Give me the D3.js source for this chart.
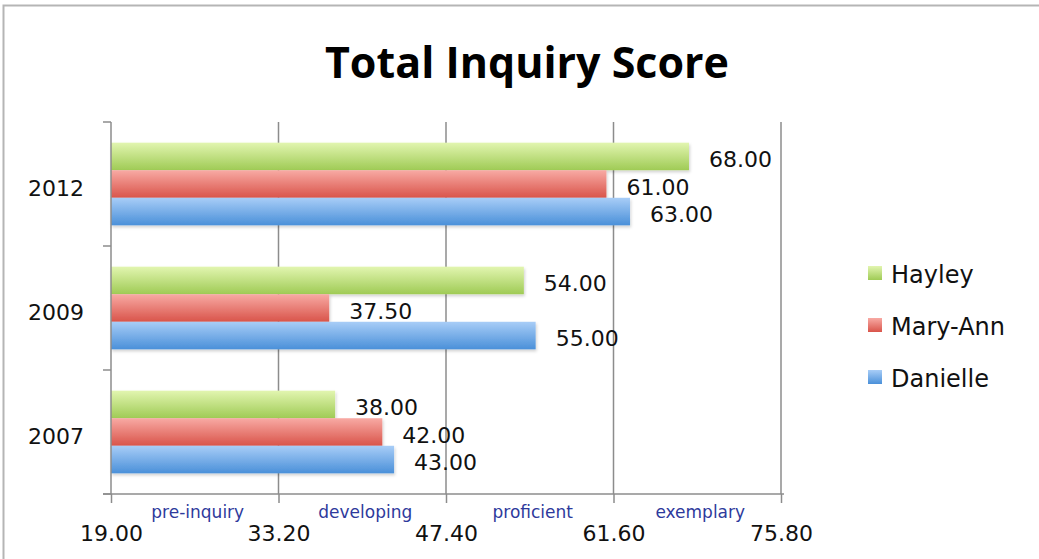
<!DOCTYPE html>
<head>
  <meta charset="utf-8">
  <style>
    body { margin: 0; background: #fff; }
    .val, .cat { font-family: "DejaVu Sans", sans-serif; font-size: 22px; fill: #111; }
    .leg { font-family: "DejaVu Sans", sans-serif; font-size: 24px; fill: #111; }
    .band { font-family: "DejaVu Sans", sans-serif; font-size: 17px; fill: #2e3a9c; text-anchor: middle; }
    .title { font-family: "Open Sans", sans-serif; font-weight: bold; font-size: 43px; text-anchor: middle; }
  </style>
</head>
<body>
  <svg width="1039" height="559"></svg>
  <script src="https://d3js.org/d3.v7.min.js"></script>
  <script>

  var years = ["2012", "2009", "2007"];
  var people = ["Hayley", "Mary-Ann", "Danielle"];
  var hayley = [68.00, 54.00, 38.00];
  var maryAnn = [61.00, 37.50, 42.00];
  var danielle = [63.00, 55.00, 43.00];
  var ticks = [19.00, 33.20, 47.40, 61.60, 75.80];
  var bands = ["pre-inquiry", "developing", "proficient", "exemplary"];

  var series = [hayley, maryAnn, danielle];
  var colors = [
    ["#e2f5b0", "#9fcb55"],
    ["#f8aaa4", "#d9544a"],
    ["#a8cdf7", "#4a90d9"]
  ];

  var svg = d3.select("svg");

  // outer frame
  svg.append("rect").attr("x", 3.5).attr("y", 5.5).attr("width", 1040).attr("height", 560)
      .attr("fill", "none").attr("stroke", "#b5b5b5").attr("stroke-width", 2);

  svg.append("text").attr("class", "title").attr("x", 527).attr("y", 78).text("Total Inquiry Score");

  var defs = svg.append("defs");
  colors.forEach(function(c, i) {
    var lg = defs.append("linearGradient").attr("id", "g" + i)
        .attr("x1", 0).attr("y1", 0).attr("x2", 0).attr("y2", 1);
    lg.append("stop").attr("offset", "0%").attr("stop-color", c[0]);
    lg.append("stop").attr("offset", "100%").attr("stop-color", c[1]);
  });
  var f = defs.append("filter").attr("id", "sh").attr("x", "-5%").attr("y", "-20%").attr("width", "110%").attr("height", "150%");
  f.append("feDropShadow").attr("dx", 1).attr("dy", 2).attr("stdDeviation", 1.5).attr("flood-color", "#000").attr("flood-opacity", 0.18);

  var x = d3.scaleLinear().domain([ticks[0], ticks[ticks.length - 1]]).range([111, 781]);
  var y = d3.scaleBand().domain(years).range([122, 494]).paddingInner(0).paddingOuter(0);
  var y1 = d3.scaleBand().domain(d3.range(people.length)).range([0, y.bandwidth()]).paddingInner(0).paddingOuter(0.75);

  // gridlines
  svg.append("g").selectAll("line").data(ticks.slice(1)).enter().append("line")
      .attr("x1", x).attr("x2", x).attr("y1", 122).attr("y2", 494)
      .attr("stroke", "#8c8c8c").attr("stroke-width", 1.5);

  // bars
  years.forEach(function(yr, yi) {
    var g = svg.append("g").attr("transform", "translate(0," + y(yr) + ")");
    series.forEach(function(s, si) {
      g.append("rect")
        .attr("x", x(ticks[0])).attr("y", y1(si))
        .attr("width", x(s[yi]) - x(ticks[0])).attr("height", y1.bandwidth())
        .attr("fill", "url(#g" + si + ")").attr("filter", "url(#sh)");
      g.append("text").attr("class", "val")
        .attr("x", x(s[yi]) + 20).attr("y", y1(si) + y1.bandwidth() / 2 + 3)
        .attr("dy", "0.35em").text(s[yi].toFixed(2));
    });
  });

  // x axis
  var xAxis = svg.append("g").attr("transform", "translate(0,494)")
      .call(d3.axisBottom(x).tickValues(ticks).tickFormat(d3.format(".2f")).tickSize(9).tickPadding(22));
  xAxis.select(".domain").remove();
  xAxis.append("line").attr("x1", 103).attr("x2", 784).attr("stroke", "#8c8c8c").attr("stroke-width", 1.5);
  xAxis.selectAll(".tick line").attr("stroke", "#8c8c8c").attr("stroke-width", 1.5);
  xAxis.selectAll(".tick text").attr("fill", "#111").style("font-size", "22px").style("font-family", "DejaVu Sans, sans-serif");

  // band labels between ticks
  svg.append("g").selectAll("text").data(bands).enter().append("text")
      .attr("class", "band")
      .attr("x", function(d, i) { return (x(ticks[i]) + x(ticks[i + 1])) / 2 + 3; })
      .attr("y", 518).text(function(d) { return d; });

  // y axis
  var yEdges = years.map(function(d) { return y(d); }).concat([494]);
  svg.append("line").attr("x1", 111).attr("x2", 111).attr("y1", 122).attr("y2", 494)
      .attr("stroke", "#8c8c8c").attr("stroke-width", 1.5);
  svg.append("g").selectAll("line").data(yEdges).enter().append("line")
      .attr("x1", 103).attr("x2", 111).attr("y1", function(d) { return d; }).attr("y2", function(d) { return d; })
      .attr("stroke", "#8c8c8c").attr("stroke-width", 1.5);
  svg.append("g").selectAll("text").data(years).enter().append("text")
      .attr("class", "cat").attr("text-anchor", "end")
      .attr("x", 84).attr("y", function(d) { return y(d) + y.bandwidth() / 2 + 4; })
      .attr("dy", "0.35em").text(function(d) { return d; });

  // legend
  var leg = svg.append("g").selectAll("g").data(people).enter().append("g")
      .attr("transform", function(d, i) { return "translate(868," + (266 + i * 52) + ")"; });
  leg.append("rect").attr("width", 14).attr("height", 14)
      .attr("fill", function(d, i) { return "url(#g" + i + ")"; });
  leg.append("text").attr("class", "leg").attr("x", 23).attr("y", 9).attr("dy", "0.35em")
      .text(function(d) { return d; });

  </script>
</body>
</html>
